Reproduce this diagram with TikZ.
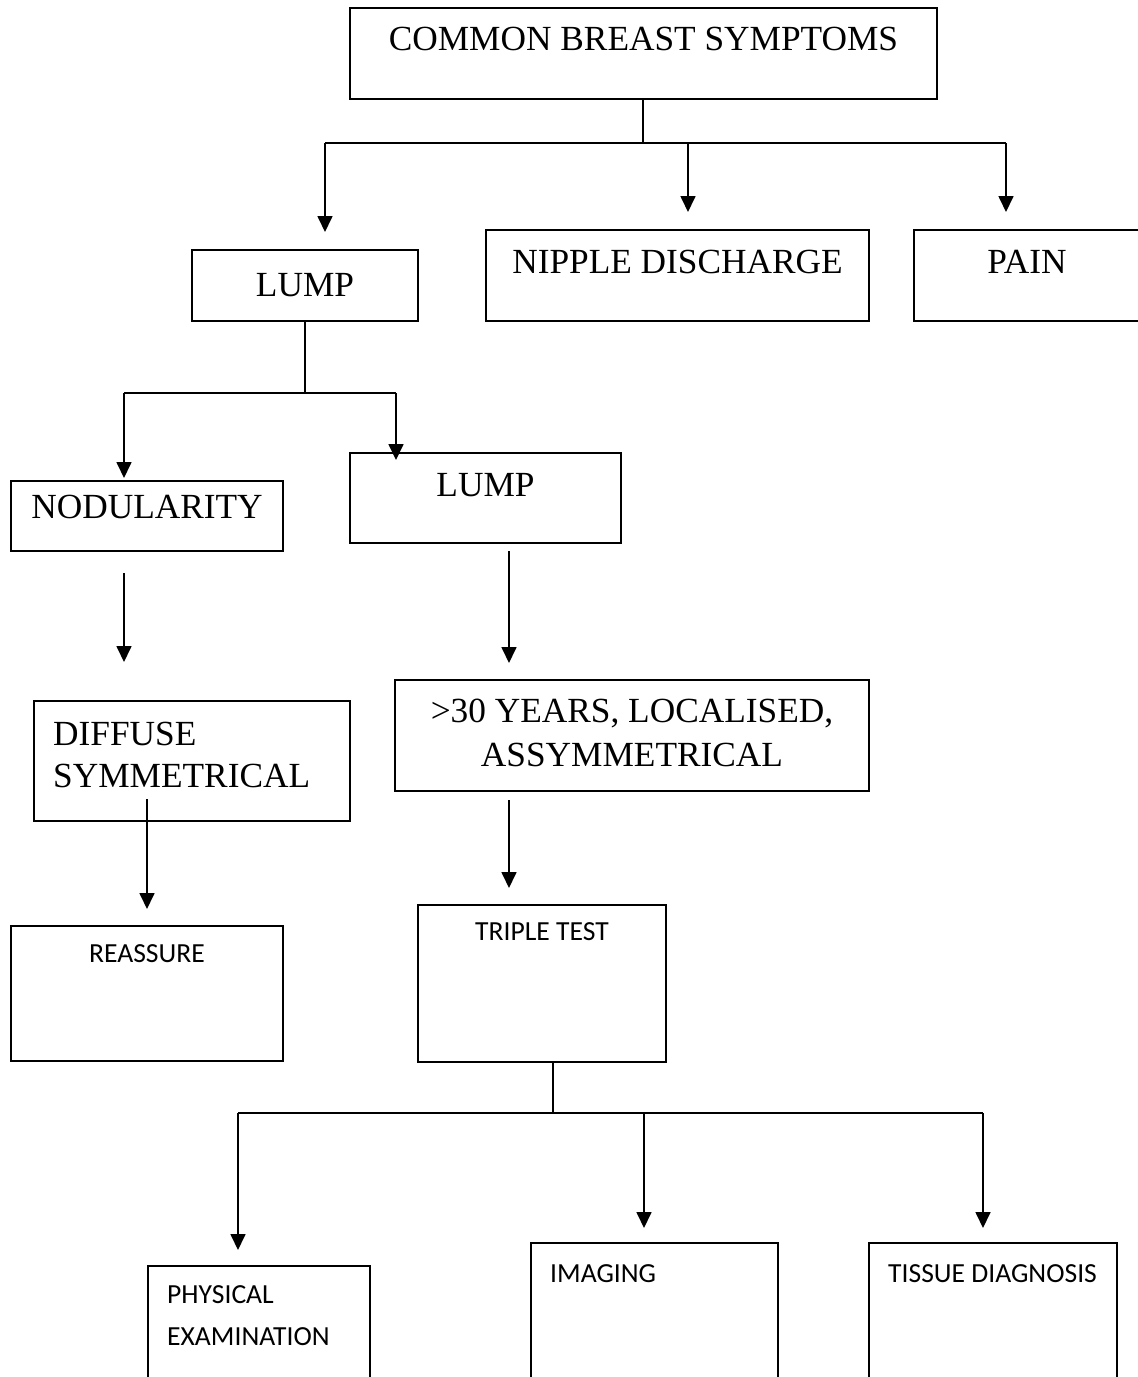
\documentclass[tikz,border=0pt]{standalone}
\usepackage{fontspec}
\setmainfont{Liberation Serif}
\newfontfamily\calibfont{Carlito}
\usetikzlibrary{arrows.meta}
\begin{document}
\begin{tikzpicture}[x=1pt,y=-1pt,
    box/.style={draw, line width=1.7pt, inner sep=0pt},
    ttimes/.style={font=\fontsize{35.3}{40}\selectfont, inner sep=0pt},
    tcalib/.style={font=\calibfont\fontsize{27.6}{32}\selectfont, inner sep=0pt},
    ln/.style={line width=1.7pt},
    arr/.style={line width=1.7pt, -{Triangle[width=15pt,length=16pt]}}]
    \useasboundingbox (0,0) rectangle (1138,1377);
    \clip (0,0) rectangle (1138,1377);
    % boxes
    \node[box, minimum width=587, minimum height=91] (symp) at (643.5,53.5) {};
    \node[box, minimum width=226, minimum height=71] (lumpa) at (305,285.5) {};
    \node[box, minimum width=383, minimum height=91] (nipple) at (677.5,275.5) {};
    \node[box, minimum width=226, minimum height=91] (pain) at (1027,275.5) {};
    \node[box, minimum width=272, minimum height=70] (nodul) at (147,516) {};
    \node[box, minimum width=271, minimum height=90] (lumpb) at (485.5,498) {};
    \node[box, minimum width=316, minimum height=120] (diffuse) at (192,761) {};
    \node[box, minimum width=474, minimum height=111] (years) at (632,735.5) {};
    \node[box, minimum width=272, minimum height=135] (reass) at (147,993.5) {};
    \node[box, minimum width=248, minimum height=157] (triple) at (542,983.5) {};
    \node[box, minimum width=222, minimum height=180] (phys) at (259,1356) {};
    \node[box, minimum width=247, minimum height=200] (imag) at (654.5,1343) {};
    \node[box, minimum width=248, minimum height=200] (tissue) at (993,1343) {};
    % texts
    \node[ttimes, anchor=base] (tsymp) at (643.5,50) {COMMON BREAST SYMPTOMS};
    \node[ttimes, anchor=base] (tlumpa) at (305,296) {LUMP};
    \node[ttimes, anchor=base] (tnipple) at (677.5,273) {NIPPLE DISCHARGE};
    \node[ttimes, anchor=base] (tpain) at (1027,273) {PAIN};
    \node[ttimes, anchor=base] (tnodul) at (147,518) {NODULARITY};
    \node[ttimes, anchor=base] (tlumpb) at (485.5,496) {LUMP};
    \node[ttimes, anchor=base west] (tdiffa) at (53,745) {DIFFUSE};
    \node[ttimes, anchor=base west] (tdiffb) at (53,787) {SYMMETRICAL};
    \node[ttimes, anchor=base] (tyearsa) at (632,722) {>30 YEARS, LOCALISED,};
    \node[ttimes, anchor=base] (tyearsb) at (632,766) {ASSYMMETRICAL};
    \node[tcalib, anchor=base] (treass) at (147,962) {REASSURE};
    \node[tcalib, anchor=base] (ttriple) at (542,940) {TRIPLE TEST};
    \node[tcalib, anchor=base west] (tphysa) at (167,1303) {PHYSICAL};
    \node[tcalib, anchor=base west] (tphysb) at (167,1345) {EXAMINATION};
    \node[tcalib, anchor=base west] (timag) at (550,1282) {IMAGING};
    \node[tcalib, anchor=base west] (ttissue) at (888,1282) {TISSUE DIAGNOSIS};
    % points
    \coordinate (ja) at (643,143);\coordinate (jal) at (325,143);\coordinate (jar) at (1006,143);
    \coordinate (jb) at (305,393);\coordinate (jbl) at (124,393);\coordinate (jbr) at (396,393);
    \coordinate (jc) at (553,1113);\coordinate (jcl) at (238,1113);\coordinate (jcr) at (983,1113);
    % lines
    \draw[ln] (ja |- symp.south) -- (ja);\draw[ln] (jal) -- (jar);
    \draw[arr] (jal) -- (325,232);\draw[arr] (ja -| 688,0) -- (688,212);\draw[arr] (jar) -- (1006,212);
    \draw[ln] (lumpa.south) -- (jb);\draw[ln] (jbl) -- (jbr);
    \draw[arr] (jbl) -- (124,478);\draw[arr] (jbr) -- (396,460);
    \draw[arr] (124,573) -- (124,662);\draw[arr] (509,551) -- (509,663);
    \draw[arr] (147,799) -- (147,909);\draw[arr] (509,800) -- (509,888);
    \draw[ln] (jc |- triple.south) -- (jc);\draw[ln] (jcl) -- (jcr);
    \draw[arr] (jcl) -- (238,1250);\draw[arr] (644,1113) -- (644,1228);\draw[arr] (jcr) -- (983,1228);
\end{tikzpicture}
\end{document}
